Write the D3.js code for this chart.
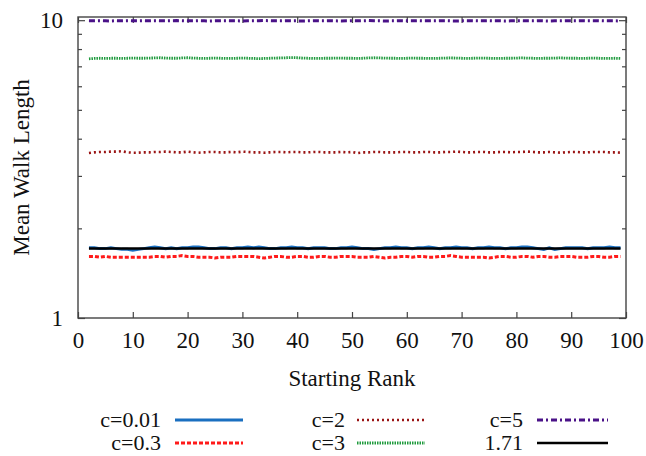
<!DOCTYPE html>
<html><head><meta charset="utf-8">
<script src="https://cdn.jsdelivr.net/npm/d3@7"></script>
<style>body{margin:0;background:#fff}svg{display:block}
svg text{font-family:"Liberation Serif","Times New Roman","DejaVu Serif",serif !important;}</style>
</head><body>
<script>
// ---- data ----
const startRank = 2;
const xTicks = [0,10,20,30,40,50,60,70,80,90,100];
const yTicks = [1,10];
const yMinor = [2,3,4,5,6,7,8,9];
const seriesNames = ["c=0.01","c=0.3","c=2","c=3","c=5","1.71"];
const c001 = [1.72,1.72,1.71,1.71,1.72,1.71,1.70,1.70,1.69,1.70,
1.71,1.72,1.73,1.72,1.71,1.72,1.71,1.72,1.72,1.73,
1.73,1.72,1.71,1.71,1.72,1.72,1.71,1.72,1.72,1.73,
1.72,1.73,1.72,1.71,1.71,1.72,1.72,1.73,1.72,1.72,
1.71,1.72,1.72,1.72,1.71,1.71,1.72,1.72,1.73,1.72,
1.71,1.71,1.70,1.71,1.72,1.72,1.73,1.72,1.72,1.71,
1.72,1.72,1.73,1.72,1.71,1.72,1.72,1.73,1.72,1.72,
1.71,1.72,1.72,1.73,1.72,1.72,1.71,1.72,1.72,1.73,
1.73,1.72,1.71,1.70,1.72,1.70,1.71,1.72,1.72,1.72,
1.72,1.71,1.72,1.72,1.72,1.73,1.72,1.72];
const c03 = [1.61,1.61,1.60,1.61,1.60,1.60,1.60,1.60,1.60,1.60,
1.60,1.60,1.61,1.61,1.60,1.61,1.61,1.62,1.61,1.61,
1.60,1.60,1.60,1.59,1.60,1.60,1.60,1.61,1.61,1.61,
1.61,1.60,1.59,1.60,1.61,1.61,1.60,1.60,1.61,1.61,
1.60,1.60,1.61,1.61,1.60,1.60,1.61,1.61,1.61,1.60,
1.60,1.60,1.61,1.60,1.59,1.60,1.60,1.61,1.61,1.60,
1.61,1.61,1.60,1.60,1.61,1.61,1.62,1.61,1.60,1.60,
1.60,1.60,1.60,1.59,1.60,1.61,1.61,1.60,1.60,1.61,
1.61,1.60,1.61,1.61,1.60,1.60,1.61,1.61,1.61,1.60,
1.60,1.60,1.61,1.61,1.60,1.60,1.61,1.61];
const c2 = [3.58,3.60,3.61,3.61,3.62,3.62,3.63,3.60,3.59,3.59,
3.60,3.60,3.61,3.61,3.62,3.61,3.60,3.60,3.62,3.60,
3.59,3.60,3.61,3.61,3.60,3.60,3.61,3.60,3.62,3.61,
3.60,3.60,3.59,3.60,3.61,3.61,3.60,3.61,3.61,3.60,
3.60,3.61,3.61,3.60,3.60,3.60,3.61,3.60,3.61,3.58,
3.60,3.60,3.61,3.61,3.60,3.60,3.60,3.61,3.61,3.60,
3.60,3.61,3.61,3.60,3.60,3.61,3.61,3.62,3.61,3.60,
3.60,3.61,3.61,3.60,3.60,3.61,3.61,3.60,3.61,3.61,
3.62,3.61,3.60,3.60,3.61,3.60,3.59,3.60,3.61,3.61,
3.60,3.60,3.61,3.61,3.61,3.60,3.60,3.59];
const c3 = [7.42,7.44,7.45,7.44,7.45,7.45,7.44,7.45,7.46,7.45,
7.45,7.46,7.47,7.48,7.46,7.45,7.45,7.47,7.48,7.46,
7.45,7.44,7.45,7.46,7.45,7.44,7.44,7.45,7.46,7.45,
7.44,7.43,7.44,7.45,7.46,7.47,7.48,7.49,7.48,7.46,
7.45,7.44,7.44,7.45,7.45,7.46,7.46,7.45,7.45,7.44,
7.45,7.47,7.48,7.47,7.46,7.45,7.45,7.44,7.45,7.46,
7.45,7.45,7.44,7.44,7.45,7.46,7.47,7.46,7.45,7.44,
7.45,7.46,7.46,7.45,7.44,7.44,7.45,7.45,7.46,7.47,
7.46,7.45,7.44,7.45,7.45,7.46,7.47,7.46,7.45,7.45,
7.44,7.45,7.46,7.45,7.44,7.44,7.45,7.44];
const c5 = [9.96,9.95,9.96,9.95,9.94,9.96,9.95,9.96,9.95,9.95,
9.96,9.95,9.96,9.95,9.95,9.96,9.97,9.96,9.95,9.95,
9.96,9.95,9.94,9.95,9.96,9.96,9.95,9.95,9.94,9.95,
9.96,9.96,9.97,9.96,9.95,9.95,9.96,9.95,9.95,9.94,
9.95,9.96,9.95,9.95,9.96,9.95,9.94,9.95,9.96,9.95,
9.96,9.97,9.95,9.95,9.94,9.95,9.95,9.96,9.95,9.95,
9.96,9.95,9.95,9.95,9.96,9.96,9.95,9.94,9.95,9.95,
9.96,9.95,9.95,9.96,9.95,9.95,9.94,9.95,9.96,9.96,
9.95,9.95,9.96,9.95,9.94,9.95,9.95,9.96,9.95,9.95,
9.96,9.95,9.95,9.96,9.95,9.95,9.95,9.94];
const refLevel = [1.71, 1.71];
const refRanks = [2, 99];

// ---- layout ----
const W = 646, H = 456;
const L = 78, R = 626, T = 17, B = 318;
const svg = d3.select("body").append("svg").attr("width", W).attr("height", H);
const font = "Liberation Serif";
const FS = 23;

const x = d3.scaleLinear().domain([0,100]).range([L,R]);
const y = d3.scaleLog().domain([1,10.25]).range([B,T]);

const styles = [
  {data:c001, color:"#1a6fc0", width:3, dash:null},
  {data:c03, color:"#ff1a1a", width:3, dash:"4,2"},
  {data:c2, color:"#9a1414", width:2.6, dash:"2,3"},
  {data:c3, color:"#1e9a3c", width:2.8, dash:"1.5,1"},
  {data:c5, color:"#4a1288", width:3, dash:"6,3,2,3"},
  {data:null, color:"#000000", width:2.5, dash:null}
];

// axes
const ax = svg.append("g");
function styleAxis(g, showLabels){
  g.attr("font-family", font).attr("font-size", FS);
  g.select(".domain").remove();
  g.selectAll(".tick line").attr("stroke","#444").attr("stroke-width",1.2);
  g.selectAll(".tick text").attr("fill","#111");
  if(!showLabels) g.selectAll(".tick text").remove();
}
ax.append("g").attr("transform",`translate(0,${B})`)
  .call(d3.axisBottom(x).tickValues(xTicks).tickSize(-6).tickPadding(14).tickFormat(d3.format("d")))
  .call(g=>styleAxis(g,true));
ax.append("g").attr("transform",`translate(0,${T})`)
  .call(d3.axisTop(x).tickValues(xTicks).tickSize(-6))
  .call(g=>styleAxis(g,false));
ax.append("g").attr("transform",`translate(${L},0)`)
  .call(d3.axisLeft(y).tickValues(yTicks).tickSize(-7).tickPadding(15).tickFormat(d3.format("d")))
  .call(g=>styleAxis(g,true));
ax.append("g").attr("transform",`translate(${L},0)`)
  .call(d3.axisLeft(y).tickValues(yMinor).tickSize(-4).tickFormat(""))
  .call(g=>styleAxis(g,false));
ax.append("g").attr("transform",`translate(${R},0)`)
  .call(d3.axisRight(y).tickValues(yTicks).tickSize(-7).tickFormat(""))
  .call(g=>styleAxis(g,false));
ax.append("g").attr("transform",`translate(${R},0)`)
  .call(d3.axisRight(y).tickValues(yMinor).tickSize(-4).tickFormat(""))
  .call(g=>styleAxis(g,false));

// lines
const line = d3.line().x((d,i)=>x(startRank+i)).y(d=>y(d)).curve(d3.curveLinear);
const refLine = d3.line().x((d,i)=>x(refRanks[i])).y(d=>y(d));
styles.forEach(s=>{
  svg.append("path")
    .attr("d", s.data ? line(s.data) : refLine(refLevel))
    .attr("fill","none").attr("stroke",s.color).attr("stroke-width",s.width)
    .attr("stroke-dasharray",s.dash);
});

// frame
svg.append("rect").attr("x",L).attr("y",T).attr("width",R-L).attr("height",B-T)
  .attr("fill","none").attr("stroke","#444").attr("stroke-width",1.4);

// titles
svg.append("text").attr("x",(L+R)/2).attr("y",386).attr("text-anchor","middle")
  .attr("font-family",font).attr("font-size",FS).attr("fill","#111").text("Starting Rank");
svg.append("text").attr("transform",`translate(29,${(T+B)/2}) rotate(-90)`).attr("text-anchor","middle")
  .attr("font-family",font).attr("font-size",FS).attr("fill","#111").text("Mean Walk Length");

// legend
const legPos = [
  {tx:161, y:420, l0:175, l1:243},
  {tx:161, y:443, l0:175, l1:243},
  {tx:345, y:420, l0:357, l1:425},
  {tx:345, y:443, l0:357, l1:425},
  {tx:523, y:420, l0:537, l1:608},
  {tx:523, y:443, l0:537, l1:608}
];
seriesNames.forEach((name,i)=>{
  const p = legPos[i], s = styles[i];
  svg.append("text").attr("x",p.tx).attr("y",p.y+7).attr("text-anchor","end")
    .attr("font-family",font).attr("font-size",22).attr("fill","#111").text(name);
  svg.append("line").attr("x1",p.l0).attr("x2",p.l1).attr("y1",p.y).attr("y2",p.y)
    .attr("stroke",s.color).attr("stroke-width",s.width).attr("stroke-dasharray",s.dash);
});
</script>
</body></html>
